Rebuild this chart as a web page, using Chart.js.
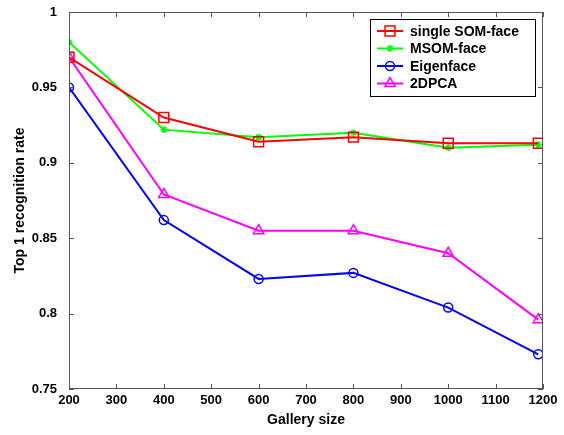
<!DOCTYPE html>
<html>
<head>
<meta charset="utf-8">
<script src="https://cdn.jsdelivr.net/npm/chart.js@4.4.0/dist/chart.umd.min.js"></script>
<style>
  html, body { margin: 0; padding: 0; background: #fff; }
  #wrap { width: 564px; height: 435px; }
</style>
</head>
<body>
<div id="wrap"><canvas id="myChart" width="564" height="435"></canvas></div>
<script>
// gallery sizes on the x axis
const gallerySizes = [200, 400, 600, 800, 1000, 1190];

// top 1 recognition rate for each method
const singleSomFace = [0.970, 0.930, 0.914, 0.917, 0.913, 0.913];
const msomFace      = [0.980, 0.922, 0.917, 0.920, 0.910, 0.912];
const eigenface     = [0.950, 0.862, 0.823, 0.827, 0.804, 0.773];
const pca2d         = [0.970, 0.879, 0.855, 0.855, 0.840, 0.796];

const seriesNames = ['single SOM-face', 'MSOM-face', 'Eigenface', '2DPCA'];

const FONT = "'Liberation Sans', Arial, sans-serif";

function toPoints(ys) {
    return gallerySizes.map((x, i) => ({ x: x, y: ys[i] }));
}

function makeSet(label, ys, color, style, radius) {
    return {
        label: label,
        data: toPoints(ys),
        borderColor: color,
        backgroundColor: 'transparent',
        pointBorderColor: color,
        pointBackgroundColor: 'transparent',
        pointStyle: style,
        pointRadius: radius,
        pointBorderWidth: 1.5,
        borderWidth: 2,
        tension: 0
    };
}

// matlab style box with inward ticks on all four sides
const boxPlugin = {
    id: 'matlabBox',
    afterDatasetsDraw(chart) {
        const ctx = chart.ctx;
        const a = chart.chartArea;
        const xs = chart.scales.x, ys = chart.scales.y;
        ctx.save();
        ctx.strokeStyle = '#555';
        ctx.lineWidth = 1;
        ctx.strokeRect(a.left + 0.5, a.top + 0.5, a.right - a.left - 1, a.bottom - a.top - 1);
        const len = 5;
        ctx.beginPath();
        xs.ticks.forEach(t => {
            const px = Math.round(xs.getPixelForValue(t.value)) + 0.5;
            ctx.moveTo(px, a.bottom); ctx.lineTo(px, a.bottom - len);
            ctx.moveTo(px, a.top); ctx.lineTo(px, a.top + len);
        });
        ys.ticks.forEach(t => {
            const py = Math.round(ys.getPixelForValue(t.value)) + 0.5;
            ctx.moveTo(a.left, py); ctx.lineTo(a.left + len, py);
            ctx.moveTo(a.right, py); ctx.lineTo(a.right - len, py);
        });
        ctx.stroke();
        ctx.restore();
    }
};

// legend drawn like the matlab one: line sample + marker, framed box
const legendPlugin = {
    id: 'matlabLegend',
    afterDraw(chart) {
        const ctx = chart.ctx;
        const left = 370, top = 19, w = 165, h = 77;
        ctx.save();
        ctx.fillStyle = '#fff';
        ctx.fillRect(left, top, w, h);
        ctx.strokeStyle = '#000';
        ctx.lineWidth = 1;
        ctx.strokeRect(left + 0.5, top + 0.5, w, h);
        chart.data.datasets.forEach((ds, i) => {
            const y = top + 12 + i * 17.5;
            ctx.strokeStyle = ds.borderColor;
            ctx.lineWidth = 2;
            ctx.beginPath();
            ctx.moveTo(377, y); ctx.lineTo(403, y);
            ctx.stroke();
            ctx.lineWidth = 1.5;
            ctx.fillStyle = 'rgba(0,0,0,0)';
            Chart.helpers.drawPoint(ctx, {
                pointStyle: ds.pointStyle,
                radius: ds.pointRadius,
                borderWidth: 1.5,
                rotation: 0
            }, 390, y);
            ctx.fillStyle = '#000';
            ctx.font = 'bold 14px ' + FONT;
            ctx.textBaseline = 'middle';
            ctx.textAlign = 'left';
            ctx.fillText(ds.label, 410, y + 1);
        });
        ctx.restore();
    }
};

const ctx = document.getElementById('myChart');

new Chart(ctx, {
    type: 'line',
    data: {
        datasets: [
            makeSet(seriesNames[0], singleSomFace, '#ff0000', 'rect', 7),
            makeSet(seriesNames[1], msomFace, '#00ff00', 'star', 3.5),
            makeSet(seriesNames[2], eigenface, '#0000ff', 'circle', 4.5),
            makeSet(seriesNames[3], pca2d, '#ff00ff', 'triangle', 6)
        ]
    },
    options: {
        responsive: false,
        animation: false,
        layout: { padding: { left: 0, right: 21, top: 12, bottom: 0 }, autoPadding: false },
        plugins: {
            legend: { display: false },
            tooltip: { enabled: false }
        },
        scales: {
            x: {
                type: 'linear',
                min: 200,
                max: 1200,
                ticks: {
                    stepSize: 100,
                    color: '#000',
                    padding: -4,
                    maxRotation: 0,
                    font: { family: FONT, size: 13, weight: 'bold' },
                    callback: v => String(v)
                },
                grid: { display: false },
                border: { display: false },
                title: {
                    display: true,
                    text: 'Gallery size',
                    color: '#000',
                    padding: { top: 0, bottom: 6 },
                    font: { family: FONT, size: 14, weight: 'bold' }
                },
                afterFit(scale) { scale.height = 46; }
            },
            y: {
                min: 0.75,
                max: 1,
                ticks: {
                    stepSize: 0.05,
                    color: '#000',
                    padding: 4,
                    font: { family: FONT, size: 13, weight: 'bold' },
                    callback: v => String(Number(v.toFixed(2)))
                },
                grid: { display: false },
                border: { display: false },
                title: {
                    display: true,
                    text: 'Top 1 recognition rate',
                    color: '#000',
                    padding: { top: 12, bottom: 0 },
                    font: { family: FONT, size: 14, weight: 'bold' }
                },
                afterFit(scale) { scale.width = 69; }
            }
        }
    },
    plugins: [boxPlugin, legendPlugin]
});
</script>
</body>
</html>
